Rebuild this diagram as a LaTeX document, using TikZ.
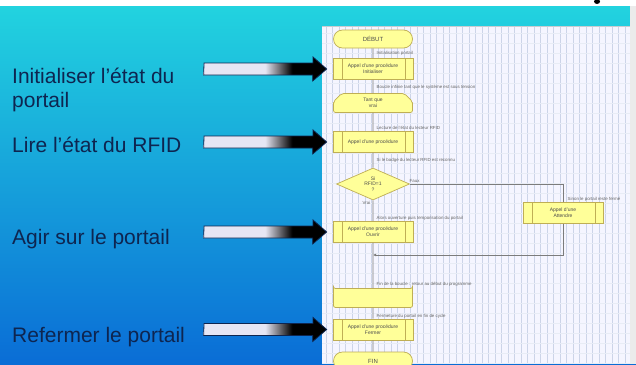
\documentclass[tikz,border=0pt]{standalone}
\usepackage{fontspec}
\setmainfont{Liberation Sans}
\usetikzlibrary{shapes.geometric,shapes.misc,arrows.meta}

\definecolor{sky}{HTML}{22D3DF}
\definecolor{midsky}{HTML}{15A6E7}
\definecolor{deepsky}{HTML}{0A6DD6}
\definecolor{navy}{HTML}{0E2550}
\definecolor{fadelight}{HTML}{E6E6F4}
\definecolor{flowfill}{HTML}{FFFF99}
\definecolor{flowedge}{HTML}{BFAE55}
\definecolor{flowline}{HTML}{7C7C7C}
\definecolor{gridblue}{HTML}{CCD4E8}
\pgfdeclarehorizontalshading{fade}{100bp}{color(0bp)=(fadelight); color(25bp)=(fadelight); color(50bp)=(fadelight); color(61bp)=(black); color(100bp)=(black)}

\begin{document}
\begin{tikzpicture}[x=1pt,y=-1pt,every node/.append style={align=center},
    side/.style={align=left,inner sep=0pt,text=navy,font=\fontsize{21}{24}\selectfont},
    fadearrow/.style={shading=fade,draw=navy,line width=0.8pt,line join=miter},
    flow/.style={draw=flowedge,fill=flowfill,line width=0.7pt,inner sep=0pt,
      text=black!70,font=\fontsize{5}{5.8}\selectfont},
    terminal/.style={flow,rounded rectangle,minimum width=79pt,minimum height=18pt,
      font=\fontsize{6}{7}\selectfont},
    proc/.style={flow,rectangle,minimum width=80pt,minimum height=21pt,
      path picture={\draw[flowedge,line width=0.6pt]
        ([xshift=9pt]path picture bounding box.north west) -- ([xshift=9pt]path picture bounding box.south west)
        ([xshift=-8pt]path picture bounding box.north east) -- ([xshift=-8pt]path picture bounding box.south east);}},
    loopbox/.style={flow,chamfered rectangle,chamfered rectangle xsep=6pt,
      minimum width=79pt,minimum height=19pt,rounded corners=2pt},
    decision/.style={flow,diamond,aspect=2.3,minimum width=73pt,minimum height=32pt},
    link/.style={draw=flowline,line width=0.8pt},
    note/.style={anchor=west,inner sep=0.5pt,text=black!60,font=\fontsize{4.4}{5}\selectfont}]
    \useasboundingbox (0,0) rectangle (636,364);
    % background
    \fill[white] (0,0) rectangle (636,364);
    \shade[top color=sky,middle color=midsky,bottom color=deepsky] (0,6) rectangle (636,364);
    \fill[black] (597,1.5) ellipse (3 and 2.5);
    % flowchart panel
    \fill[black!8] (630,6) rectangle (636,364);
    \fill[white!96!blue] (322,26) rectangle (630,364);
    \foreach \x in {326,332.5,...,630} \draw[gridblue,line width=0.6pt] (\x,27) -- (\x,364);
    \foreach \y in {33,43,...,363} \draw[gridblue!45,line width=0.4pt] (322,\y) -- (630,\y);
    \draw[gridblue!60!black!40,line width=0.5pt] (322,26.5) -- (630,26.5);

    \node[terminal] (debut) at (373,39)  {DÉBUT};
    \node[proc]     (p1)    at (373,69)  {Appel d'une procédure\\Initialiser};
    \node[loopbox,chamfered rectangle corners={north west,north east}] (loopa) at (373,103) {Tant que\\vrai};
    \node[proc]     (p2)    at (373,142) {Appel d'une procédure};
    \node[decision] (dec)   at (373,184) {Si\\RFID=1\\?};
    \node[proc]     (p3)    at (373,232) {Appel d'une procédure\\Ouvrir};
    \node[proc]     (p4)    at (563,213) {Appel d'une\\Attendre};
    \node[loopbox,chamfered rectangle corners={south west,south east}] (loopb) at (373,298) {};
    \node[proc]     (p5)    at (373,329.5) {Appel d'une procédure\\Fermer};
    \node[terminal] (fin)   at (373,361) {FIN};

    \draw[link] (debut) -- (p1) -- (loopa) -- (p2) -- (dec) -- (p3) -- (loopb) -- (p5) -- (fin);
    \draw[link] (dec.east) -- (dec.east -| p4) -- (p4);
    \coordinate (back) at (373,255);
    \draw[link,-{Latex[length=3pt,width=3pt]}] (p4) -- (p4 |- back) -- (back);

    \node[note] (n1) at (376,53)  {Initialisation portail};
    \node[note] (n2) at (376,87)  {Boucle infinie tant que le système est sous tension};
    \node[note] (n3) at (376,128) {Lecture de l'état du lecteur RFID};
    \node[note] (n4) at (376,160) {Si le badge du lecteur RFID est reconnu};
    \node[note] (n5) at (567,199) {Sinon le portail reste fermé};
    \node[note] (n6) at (376,218) {Alors ouverture puis temporisation du portail};
    \node[note] (n7) at (376,284) {Fin de la boucle : retour au début du programme};
    \node[note] (n8) at (376,316) {Fermeture du portail en fin de cycle};
    \node[note,anchor=south west] (yes) at (409,183) {Faux};
    \node[note,anchor=east]       (no)  at (371,203) {Vrai};

    % left column
    \node[side,anchor=west]      (t1) at (12,90)    {Initialiser l'état du\\portail};
    \node[side,anchor=base west] (t2) at (12,152.5) {Lire l'état du RFID};
    \node[side,anchor=base west] (t3) at (12,244.5) {Agir sur le portail};
    \node[side,anchor=base west] (t4) at (12,342.5) {Refermer le portail};

    \coordinate (a1) at (204,69);
    \coordinate (a2) at (204,142);
    \coordinate (a3) at (204,232);
    \coordinate (a4) at (204,329.5);
    \coordinate (h1) at ([xshift=-6pt]p1.west);
    \coordinate (h2) at ([xshift=-6pt]p2.west);
    \coordinate (h3) at ([xshift=-6pt]p3.west);
    \coordinate (h4) at ([xshift=-6pt]p5.west);
    \shade[fadearrow] (a1) ++(0,-6) -- ++(109,0) -- ++(0,-6) -- (h1) -- ++(-14,12) -- ++(0,-6) -- ++(-109,0) -- cycle;
    \shade[fadearrow] (a2) ++(0,-6) -- ++(109,0) -- ++(0,-6) -- (h2) -- ++(-14,12) -- ++(0,-6) -- ++(-109,0) -- cycle;
    \shade[fadearrow] (a3) ++(0,-6) -- ++(109,0) -- ++(0,-6) -- (h3) -- ++(-14,12) -- ++(0,-6) -- ++(-109,0) -- cycle;
    \shade[fadearrow] (a4) ++(0,-6) -- ++(109,0) -- ++(0,-6) -- (h4) -- ++(-14,12) -- ++(0,-6) -- ++(-109,0) -- cycle;
  \end{tikzpicture}
\end{document}
